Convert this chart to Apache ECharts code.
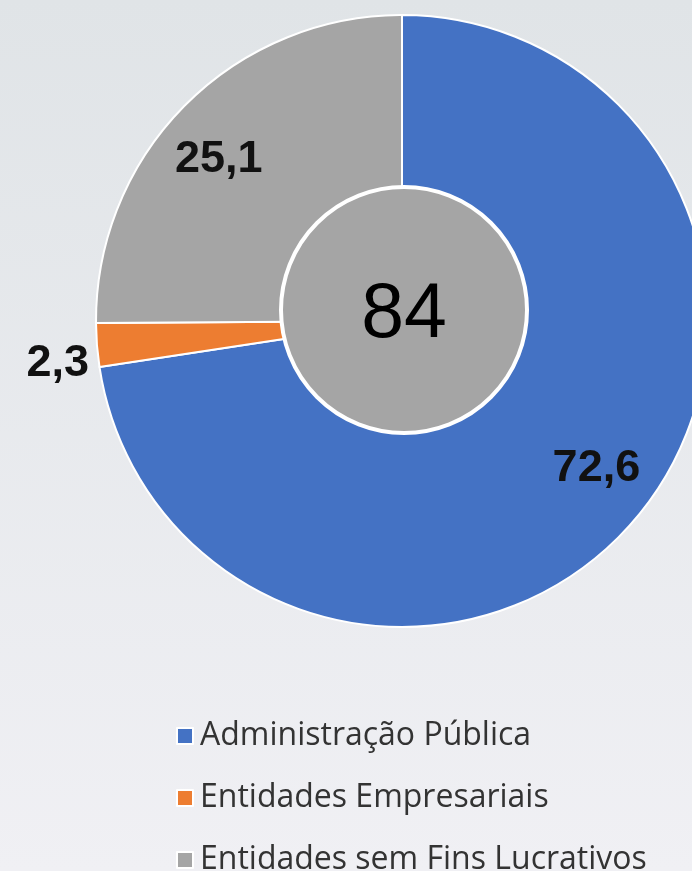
<!DOCTYPE html>
<html>
<head>
<meta charset="utf-8">
<script src="https://cdn.jsdelivr.net/npm/echarts@6/dist/echarts.min.js"></script>
<style>
  html, body { margin: 0; padding: 0; }
  #chart {
    width: 692px;
    height: 871px;
    background: linear-gradient(#e0e4e7, #f0f0f4);
  }
</style>
</head>
<body>
<div id="chart"></div>
<script>
// valores do gráfico (%)
const categorias = ['Administração Pública', 'Entidades Empresariais', 'Entidades sem Fins Lucrativos']
const valores = [72.6, 2.3, 25.1]
const cores = ['#4472C4', '#ED7D31', '#A5A5A5']
const totalCentro = 84

const chart = echarts.init(document.getElementById('chart'))

const fmt = (v) => v.toFixed(1).replace('.', ',')

const dados = categorias.map((nome, i) => ({
  name: nome,
  value: valores[i],
  itemStyle: { color: cores[i] }
}))

// série só para as etiquetas (posicionadas mais para fora)
const dadosEtiquetas = categorias.map((nome, i) => ({
  name: nome,
  value: valores[i],
  label: valores[i] < 5
    ? { position: 'outside' }
    : { position: 'inside' },
  labelLine: { show: false, length: 1, length2: 1 }
}))

const option = {
  animation: false,
  legend: {
    orient: 'vertical',
    left: 171,
    top: 715,
    height: 200,
    itemWidth: 16,
    itemHeight: 16,
    itemGap: 30,
    icon: 'rect',
    data: categorias,
    textStyle: {
      fontFamily: 'Open Sans',
      fontSize: 32,
      lineHeight: 31,
      color: '#333',
      padding: [0, 0, 0, 2]
    }
  },
  series: [
    {
      type: 'pie',
      center: [402, 321],
      radius: [0, 306],
      startAngle: 90,
      silent: true,
      label: { show: false },
      labelLine: { show: false },
      itemStyle: { borderColor: '#fff', borderWidth: 2 },
      data: dados
    },
    {
      type: 'pie',
      center: [402, 321],
      radius: [176, 306],
      startAngle: 93.5,
      silent: true,
      avoidLabelOverlap: false,
      legendHoverLink: false,
      itemStyle: { color: 'rgba(0,0,0,0)' },
      label: {
        show: true,
        formatter: (p) => fmt(p.value),
        fontFamily: 'Liberation Sans',
        fontWeight: 'bold',
        fontSize: 45,
        color: '#111',
        distanceToLabelLine: 8
      },
      data: dadosEtiquetas
    },
    {
      type: 'pie',
      center: [404, 310],
      radius: [0, 123],
      silent: true,
      itemStyle: { color: '#A5A5A5', borderColor: '#fff', borderWidth: 4 },
      label: {
        show: true,
        position: 'center',
        formatter: String(totalCentro),
        fontFamily: 'Liberation Sans',
        fontSize: 77,
        color: '#000',
        offset: [0, 6]
      },
      labelLine: { show: false },
      data: [{ name: 'total', value: totalCentro }]
    }
  ]
}

chart.setOption(option)
</script>
</body>
</html>
